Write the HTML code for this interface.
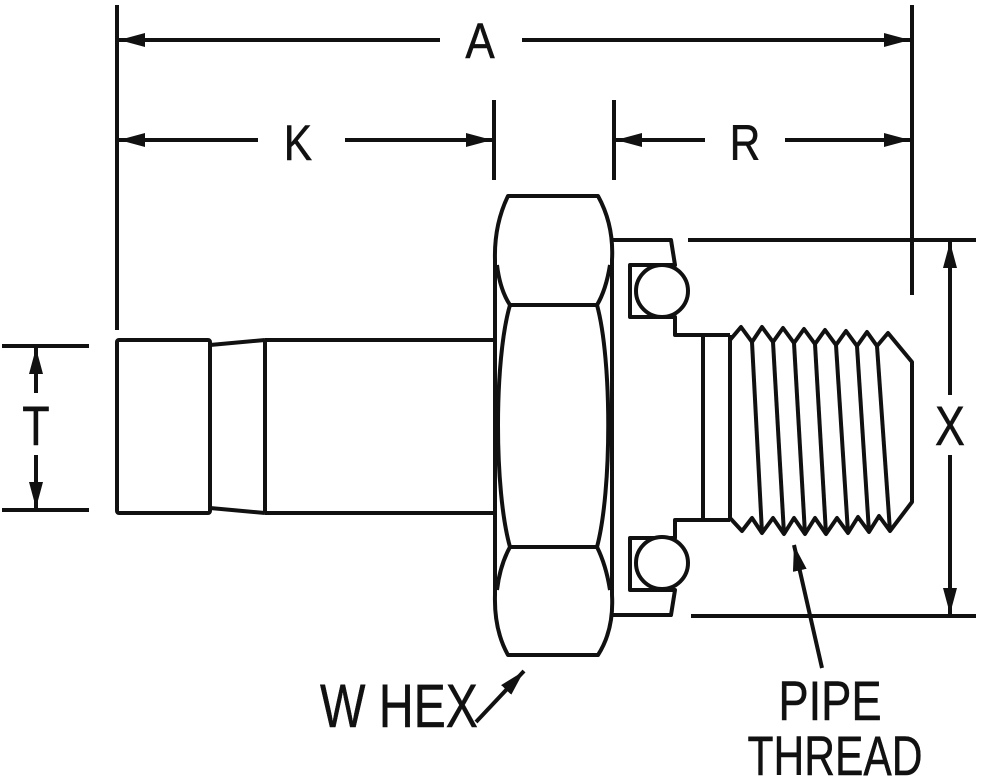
<!DOCTYPE html>
<html><head><style>
html,body{margin:0;padding:0;background:#fff;}
svg{display:block;}
text{font-family:"Liberation Sans",sans-serif;fill:#111;stroke:#111;stroke-width:0.5;}
</style></head><body>
<svg width="982" height="779" viewBox="0 0 982 779" xmlns="http://www.w3.org/2000/svg">
<defs>
<marker id="ar" viewBox="0 0 26 14" refX="26" refY="7" markerWidth="26" markerHeight="14" markerUnits="userSpaceOnUse" orient="auto">
<path d="M0,0 L26,7 L0,14 Z" fill="#111" stroke="none"/></marker>
</defs>
<g stroke="#111" stroke-width="4" fill="none" stroke-linejoin="round">
<line x1="117" y1="5" x2="117" y2="330"/>
<line x1="912" y1="5" x2="912" y2="295"/>
<line x1="494" y1="100" x2="494" y2="180"/>
<line x1="614" y1="100" x2="614" y2="180"/>
<line x1="440" y1="40" x2="119" y2="40" marker-end="url(#ar)"/>
<line x1="522" y1="40" x2="910" y2="40" marker-end="url(#ar)"/>
<line x1="258" y1="140" x2="119" y2="140" marker-end="url(#ar)"/>
<line x1="345" y1="140" x2="492" y2="140" marker-end="url(#ar)"/>
<line x1="705" y1="140" x2="616" y2="140" marker-end="url(#ar)"/>
<line x1="785" y1="140" x2="910" y2="140" marker-end="url(#ar)"/>
<line x1="2" y1="346" x2="89" y2="346"/>
<line x1="2" y1="510" x2="89" y2="510"/>
<line x1="36" y1="393" x2="36" y2="348" marker-end="url(#ar)"/>
<line x1="36" y1="455" x2="36" y2="508" marker-end="url(#ar)"/>
<line x1="688" y1="240" x2="976" y2="240"/>
<line x1="691" y1="616" x2="976" y2="616"/>
<line x1="950" y1="395" x2="950" y2="242" marker-end="url(#ar)"/>
<line x1="950" y1="455" x2="950" y2="614" marker-end="url(#ar)"/>
<rect x="117" y="340" width="93" height="173" rx="2"/>
<line x1="210" y1="345" x2="265" y2="340"/>
<line x1="210" y1="508" x2="265" y2="513"/>
<line x1="265" y1="340" x2="265" y2="513"/>
<line x1="265" y1="340" x2="497" y2="340"/>
<line x1="265" y1="513" x2="497" y2="513"/>
<path d="M508,196 L598,196 Q614,225 612,260 L612,595 Q614,630 598,655 L508,655 Q494,630 495,595 L495,260 Q494,225 508,196 Z"/>
<line x1="510" y1="305" x2="597" y2="305"/>
<line x1="510" y1="547" x2="597" y2="547"/>
<path d="M510,305 C494,360 494,490 510,547"/>
<path d="M597,305 C612,360 612,490 597,547"/>
<path d="M497,265 Q500,290 510,305 M610,265 Q606,290 597,305 M497,590 Q500,565 510,547 M610,590 Q606,565 597,547"/>
<path d="M612,240 L671,240 L675,265 L630,265 L630,317 L675,317 L675,335 L703,335 L703,520 L675,520 L675,538 L630,538 L630,590 L675,590 L671,615 L612,615"/>
<circle cx="662" cy="291" r="26" fill="#fff"/>
<circle cx="662" cy="563" r="26" fill="#fff"/>
<line x1="703" y1="335" x2="730" y2="335"/>
<line x1="703" y1="520" x2="730" y2="520"/>
<line x1="730" y1="335" x2="730" y2="520"/>
<path d="M730,340 L741,327 L752,342 L762,327 L773,342 L783,328 L794,343 L804,329 L815,344 L825,330 L836,345 L846,331 L857,346 L867,332 L877,346 L888,333 L912,362 L912,502 L890,531 L879,516 L869,532 L858,517 L848,533 L837,518 L826,534 L815,518 L805,534 L794,518 L784,534 L773,518 L762,533 L752,518 L742,531 L730,518"/>
<line x1="752" y1="342" x2="762" y2="533"/>
<line x1="773" y1="342" x2="784" y2="534"/>
<line x1="794" y1="343" x2="805" y2="534"/>
<line x1="815" y1="344" x2="826" y2="534"/>
<line x1="836" y1="345" x2="848" y2="533"/>
<line x1="857" y1="346" x2="869" y2="532"/>
<line x1="877" y1="346" x2="890" y2="531"/>
<line x1="476" y1="722" x2="524" y2="671" marker-end="url(#ar)"/>
<line x1="822" y1="668" x2="794" y2="545" marker-end="url(#ar)"/>
</g>
<g>
<text x="480" y="58" font-size="50" text-anchor="middle" transform="translate(480,0) scale(0.88,1) translate(-480,0)">A</text>
<text x="298" y="160" font-size="50" text-anchor="middle" transform="translate(298,0) scale(0.85,1) translate(-298,0)">K</text>
<text x="745" y="160" font-size="50" text-anchor="middle" transform="translate(745,0) scale(0.85,1) translate(-745,0)">R</text>
<text x="36" y="445" font-size="56" text-anchor="middle" transform="translate(36,0) scale(0.8,1) translate(-36,0)">T</text>
<text x="950" y="445" font-size="56" text-anchor="middle" transform="translate(950,0) scale(0.8,1) translate(-950,0)">X</text>
<text x="399" y="727" font-size="61" text-anchor="middle" transform="translate(399,0) scale(0.79,1) translate(-399,0)">W HEX</text>
<text x="830" y="720" font-size="56" text-anchor="middle" transform="translate(830,0) scale(0.81,1) translate(-830,0)">PIPE</text>
<text x="835" y="775" font-size="56" text-anchor="middle" transform="translate(835,0) scale(0.76,1) translate(-835,0)">THREAD</text>
</g>
</svg>
</body></html>
